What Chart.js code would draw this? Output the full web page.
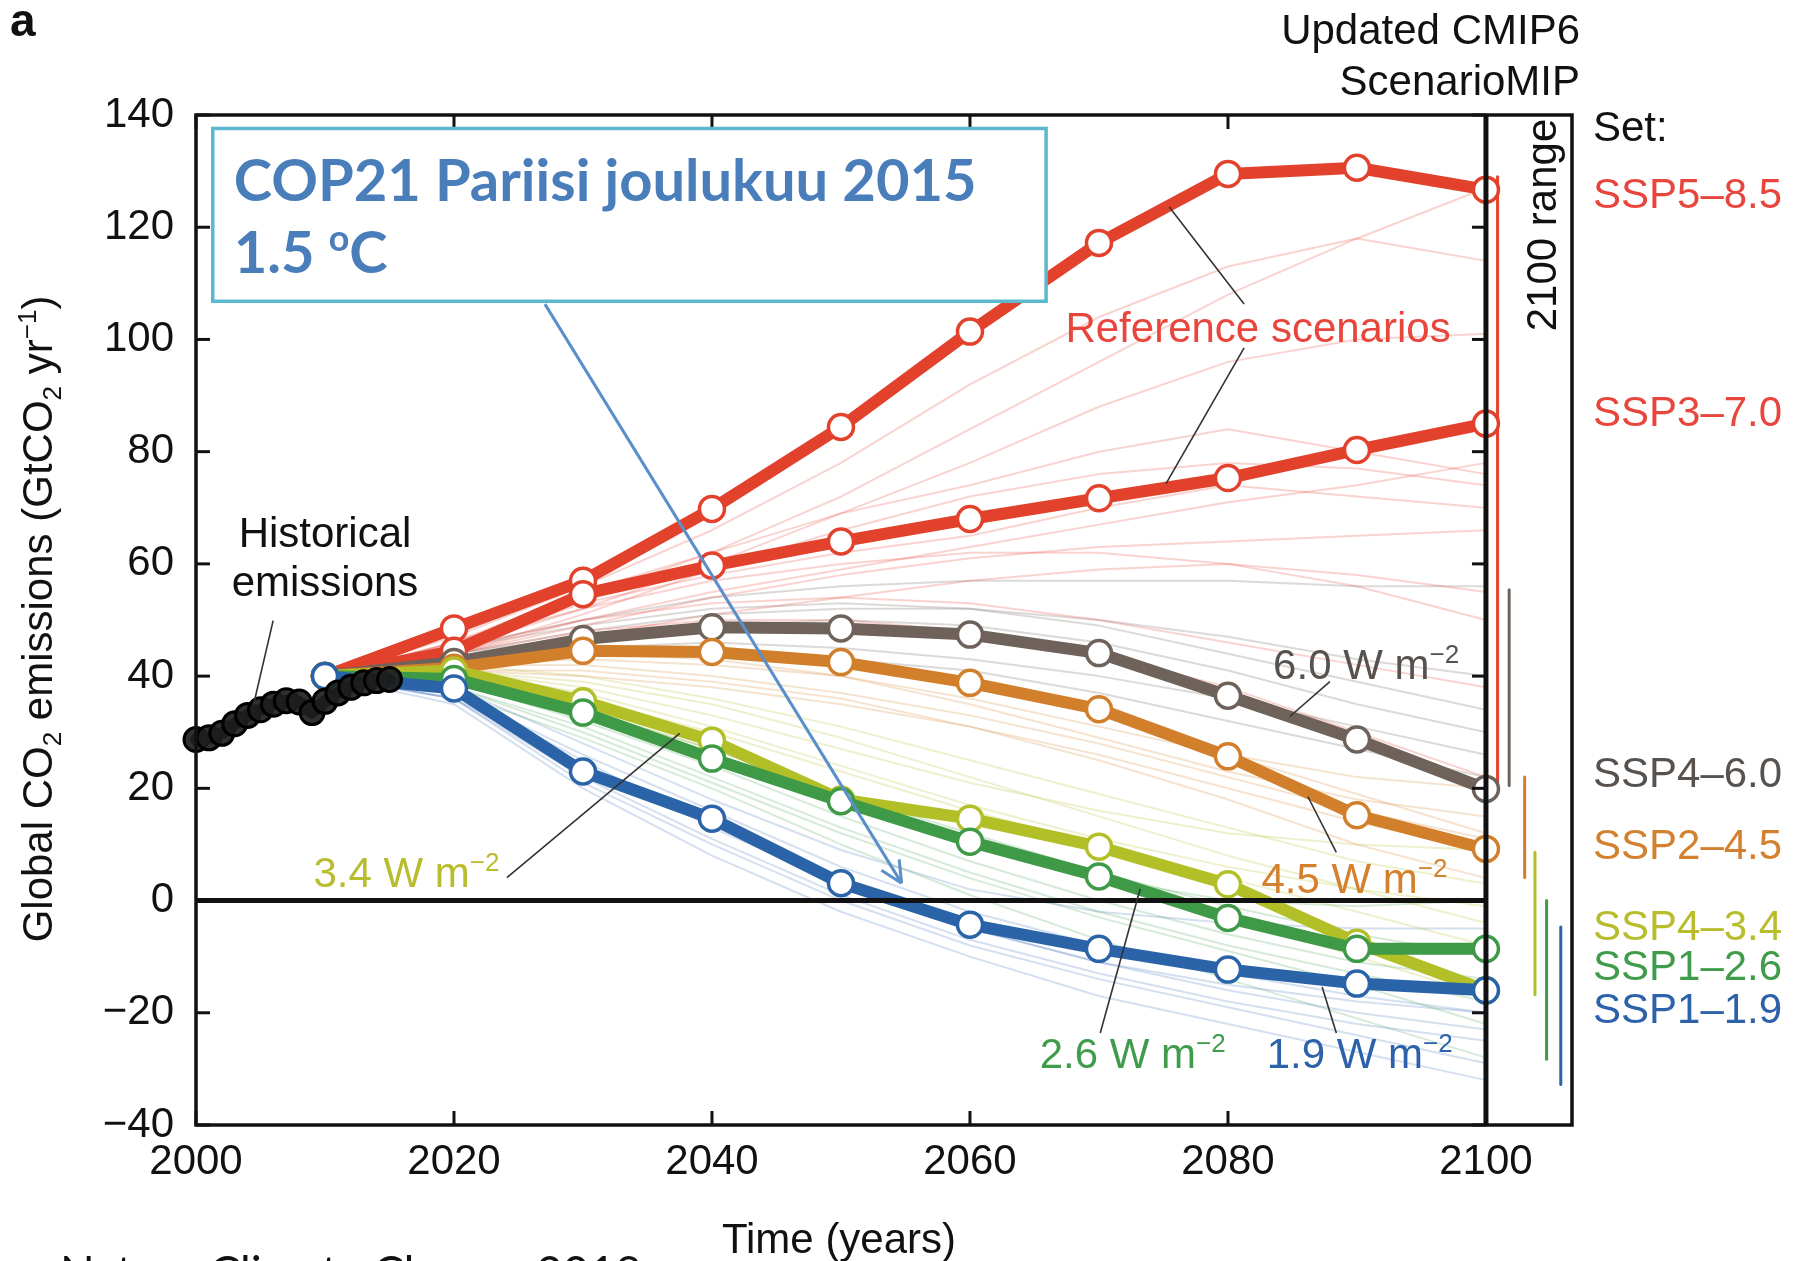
<!DOCTYPE html>
<html><head><meta charset="utf-8">
<script src="https://cdn.jsdelivr.net/npm/chart.js@4.4.1/dist/chart.umd.min.js"></script>
<style>html,body{margin:0;padding:0;background:#fff;overflow:hidden}canvas{display:block}</style>
</head><body>
<canvas id="c" width="1806" height="1261" style="width:1806px;height:1261px"></canvas>
<script>
// Global CO2 emissions, SSP marker scenarios (GtCO2 per year)
const years = [2010, 2020, 2030, 2040, 2050, 2060, 2070, 2080, 2090, 2100];
const ssp585 = [40, 48.5, 57, 69.8, 84.4, 101.4, 117.2, 129.5, 130.6, 126.7];
const ssp370 = [40, 44.5, 54.6, 59.7, 64, 68, 71.7, 75.3, 80.3, 85];
const ssp460 = [40, 42.5, 46.6, 48.7, 48.5, 47.4, 44.1, 36.5, 28.7, 19.9];
const ssp245 = [40, 41.5, 44.5, 44.3, 42.5, 38.8, 34.1, 25.7, 15.2, 9.2];
const ssp434 = [40, 41, 35.5, 28.5, 18, 14.6, 9.6, 2.9, -7.5, -16];
const ssp126 = [40, 39.5, 33.5, 25.3, 17.7, 10.5, 4.3, -3.1, -8.6, -8.6];
const ssp119 = [40, 37.8, 23, 14.6, 3.1, -4.3, -8.6, -12.3, -14.8, -16];

// Historical emissions
const histYears = [2000, 2001, 2002, 2003, 2004, 2005, 2006, 2007, 2008, 2009, 2010, 2011, 2012, 2013, 2014, 2015];
const histCO2 = [28.7, 29.0, 29.8, 31.5, 33.0, 34.0, 35.0, 35.6, 35.4, 33.5, 35.5, 37.0, 38.0, 38.8, 39.2, 39.4];

// Individual model runs of each scenario set
const set585 = [
  [40, 46, 54, 62, 72, 84, 96, 108, 118, 127],
  [40, 47, 56, 66, 78, 92, 104, 113, 118, 114],
  [40, 45, 52, 60, 69, 78, 88, 96, 100, 101],
  [40, 46, 55, 62, 69, 74, 80, 84, 80, 76],
  [40, 44, 50, 55, 59, 63, 67, 71, 74, 78],
  [40, 44, 49, 54, 58, 61, 63, 64, 65, 66],
  [40, 45, 53, 58, 62, 65, 70, 74, 72, 70],
  [40, 43, 47, 51, 54, 57, 59, 60, 58, 55],
  [40, 44, 48, 50, 50, 48, 44, 38, 30, 22],
  [40, 45, 50, 53, 54, 53, 50, 46, 42, 38],
  [40, 46, 52, 57, 60, 62, 62, 60, 56, 50],
  [40, 44, 51, 59, 66, 72, 76, 78, 77, 74]
];
const set460 = [
  [40, 45, 50, 54, 56, 57, 57, 57, 56, 56],
  [40, 44, 48, 51, 52, 52, 50, 47, 43, 40],
  [40, 43, 45, 46, 45, 43, 40, 36, 31, 26],
  [40, 44, 47, 49, 50, 49, 46, 41, 35, 30],
  [40, 42, 44, 44, 43, 41, 37, 32, 27, 22],
  [40, 45, 49, 52, 53, 52, 49, 44, 39, 34]
];
const set245 = [
  [40, 42, 43, 42, 40, 36, 31, 26, 22, 20],
  [40, 41, 40, 38, 35, 31, 26, 20, 14, 9],
  [40, 43, 45, 45, 43, 39, 33, 26, 19, 12],
  [40, 41, 41, 39, 36, 31, 25, 18, 10, 4],
  [40, 42, 44, 43, 40, 35, 29, 23, 18, 15],
  [40, 42, 42, 40, 37, 33, 28, 22, 16, 11]
];
const set434 = [
  [40, 41, 38, 33, 27, 21, 16, 12, 10, 9],
  [40, 40, 36, 30, 23, 16, 10, 4, -2, -8],
  [40, 41, 37, 31, 24, 17, 11, 6, 2, -1],
  [40, 40, 34, 27, 19, 11, 4, -3, -10, -17],
  [40, 41, 39, 35, 29, 22, 15, 8, 2, -4],
  [40, 42, 40, 36, 31, 25, 19, 13, 7, 3]
];
const set126 = [
  [40, 39, 33, 25, 17, 10, 4, 0, -1, 0],
  [40, 38, 31, 22, 13, 5, -2, -8, -13, -18],
  [40, 39, 32, 24, 15, 7, 0, -6, -11, -14],
  [40, 37, 29, 20, 10, 1, -7, -14, -21, -28],
  [40, 39, 34, 27, 19, 12, 5, -1, -6, -10],
  [40, 38, 30, 21, 12, 4, -3, -9, -15, -22]
];
const set119 = [
  [40, 37, 26, 16, 6, -2, -8, -13, -17, -20],
  [40, 36, 22, 11, 1, -7, -13, -18, -22, -25],
  [40, 37, 25, 13, 3, -5, -11, -16, -20, -23],
  [40, 35, 20, 8, -2, -10, -17, -22, -27, -32],
  [40, 38, 28, 18, 9, 2, -2, -4, -5, -5],
  [40, 36, 24, 14, 4, -5, -11, -15, -18, -20],
  [40, 36, 21, 10, 0, -8, -14, -19, -24, -29]
];

// 2100 range of each set [low, high]
const range585 = [19.5, 129];
const range460 = [20.5, 55.4];
const range245 = [4.1, 22];
const range434 = [-16.8, 8.6];
const range126 = [-28.3, 0];
const range119 = [-32.8, -4.7];

const xTicks = [2000, 2020, 2040, 2060, 2080, 2100];
const yTicks = [-40, -20, 0, 20, 40, 60, 80, 100, 120, 140];

const C = {
  red: '#e2412c', gray: '#6e625b', orange: '#d17f2b',
  yellow: '#b3bf27', green: '#3f9a48', blue: '#2a63a8'
};
const FONT = "'Liberation Sans', Arial, sans-serif";

const mk = arr => years.map((yr, i) => ({x: yr, y: arr[i]}));

const datasets = [];
function mainSeries(label, arr, color, order) {
  datasets.push({
    label, data: mk(arr), borderColor: color, borderWidth: 12,
    pointRadius: 12.5, pointBorderWidth: 3.5, pointBackgroundColor: '#fff',
    pointBorderColor: color, order, clip: false
  });
}
function faintSet(set, color) {
  set.forEach(arr => datasets.push({
    data: mk(arr), borderColor: color, borderWidth: 2, pointRadius: 0, order: 20
  }));
}
faintSet(set585, 'rgba(232,70,58,0.24)');
faintSet(set460, 'rgba(110,100,95,0.24)');
faintSet(set245, 'rgba(215,140,60,0.24)');
faintSet(set434, 'rgba(190,196,60,0.26)');
faintSet(set126, 'rgba(70,160,80,0.22)');
faintSet(set119, 'rgba(60,110,185,0.22)');

const ranges = [
  [range585, C.red, 0.9], [range460, C.gray, 1.8], [range245, C.orange, 3.0],
  [range434, C.yellow, 3.8], [range126, C.green, 4.7], [range119, C.blue, 5.8]
];
ranges.forEach(([r, color, dx]) => datasets.push({
  data: [{x: 2100 + dx, y: r[0]}, {x: 2100 + dx, y: r[1]}],
  borderColor: color, borderWidth: 3, pointRadius: 0, order: 9
}));

mainSeries('SSP5–8.5', ssp585, C.red, 7);
mainSeries('SSP3–7.0', ssp370, C.red, 6);
mainSeries('SSP4–6.0', ssp460, C.gray, 5);
mainSeries('SSP2–4.5', ssp245, C.orange, 4);
mainSeries('SSP4–3.4', ssp434, C.yellow, 3);
mainSeries('SSP1–2.6', ssp126, C.green, 2);
mainSeries('SSP1–1.9', ssp119, C.blue, 1);

datasets.push({
  label: 'Historical', data: histYears.map((yr, i) => ({x: yr, y: histCO2[i]})),
  borderColor: '#000', borderWidth: 12, pointRadius: 12, pointBorderWidth: 3,
  pointBorderColor: '#000', pointBackgroundColor: 'rgba(30,30,30,0.92)', order: 0, clip: false
});

// text with super/subscripts: parts = [[text, mode]], mode 1 = sup, -1 = sub
function rich(ctx, parts, x, baseline, size, color, align, family, weight) {
  const fnt = s => `${weight || 'normal'} ${s}px ${family || FONT}`;
  let w = 0;
  parts.forEach(([t, m]) => { ctx.font = fnt(m ? size * 0.62 : size); w += ctx.measureText(t).width; });
  let cx = align === 'center' ? x - w / 2 : align === 'right' ? x - w : x;
  ctx.fillStyle = color; ctx.textAlign = 'left'; ctx.textBaseline = 'alphabetic';
  parts.forEach(([t, m]) => {
    const s = m ? size * 0.62 : size;
    ctx.font = fnt(s);
    const dy = m === 1 ? -0.38 * size : m === -1 ? 0.2 * size : 0;
    ctx.fillText(t, cx, baseline + dy);
    cx += ctx.measureText(t).width;
  });
}

const annotations = {
  id: 'annotations',
  afterDatasetsDraw(chart) {
    const {ctx, chartArea: a, scales: {x, y}} = chart;
    const px = v => x.getPixelForValue(v), py = v => y.getPixelForValue(v);
    const seg = (x1, y1, x2, y2) => { ctx.beginPath(); ctx.moveTo(x1, y1); ctx.lineTo(x2, y2); ctx.stroke(); };
    ctx.save();
    ctx.lineCap = 'butt';

    // zero line and 2100 line
    ctx.strokeStyle = '#111'; ctx.lineWidth = 5;
    seg(px(2000), py(0), px(2100), py(0));
    seg(px(2100), a.top, px(2100), a.bottom);
    // frame
    ctx.lineWidth = 3.5;
    ctx.strokeRect(a.left, a.top, a.right - a.left, a.bottom - a.top);
    // inward tick marks
    ctx.lineWidth = 3;
    yTicks.forEach(v => {
      seg(a.left, py(v), a.left + 14, py(v));
      seg(px(2100), py(v), px(2100) - 14, py(v));
    });
    xTicks.forEach(v => {
      seg(px(v), a.bottom, px(v), a.bottom - 14);
      seg(px(v), a.top, px(v), a.top + 14);
    });

    // leader lines
    ctx.strokeStyle = '#333'; ctx.lineWidth = 1.6;
    const leaders = [
      [2005.98, 49.9, 2004.46, 34.9],
      [2081.25, 106.3, 2075.45, 123.6],
      [2081.25, 98.5, 2075.2, 74.3],
      [2087.9, 39, 2084.8, 32.8],
      [2088.4, 8.6, 2086.2, 18.5],
      [2024.1, 4.1, 2037.5, 29.8],
      [2070.1, -23.6, 2073.2, 2.1],
      [2088.4, -23.6, 2087.3, -15.4]
    ];
    leaders.forEach(l => seg(px(l[0]), py(l[1]), px(l[2]), py(l[3])));

    // in-plot labels
    const S = 42, b = v => py(v) + 0.36 * S;
    const wm = n => [[n + ' W m'], ['−2', 1]];
    rich(ctx, [['Historical']], px(2010), b(65.7), S, '#111', 'center');
    rich(ctx, [['emissions']], px(2010), b(56.9), S, '#111', 'center');
    rich(ctx, [['Reference scenarios']], px(2067.4), b(102.2), S, '#e8453c', 'left');
    rich(ctx, wm('6.0'), px(2083.5), b(42.1), S, '#58524e', 'left');
    rich(ctx, wm('4.5'), px(2082.6), b(4.1), S, '#d4812f', 'left');
    rich(ctx, wm('3.4'), px(2009.1), b(5.1), S, '#b8bd2e', 'left');
    rich(ctx, wm('2.6'), px(2065.4), b(-27.1), S, '#3f9c4a', 'left');
    rich(ctx, wm('1.9'), px(2083.0), b(-27.1), S, '#2d62aa', 'left');

    // COP21 box
    const bx1 = px(2001.3), bx2 = px(2065.9), by1 = py(137.6), by2 = py(106.8);
    ctx.fillStyle = '#fff'; ctx.fillRect(bx1, by1, bx2 - bx1, by2 - by1);
    ctx.strokeStyle = '#5bb8cf'; ctx.lineWidth = 3.5;
    ctx.strokeRect(bx1, by1, bx2 - bx1, by2 - by1);
    const line1 = 'COP21 Pariisi joulukuu 2015';
    ctx.font = "bold 100px Lato, 'Open Sans', sans-serif";
    const bs = 100 * 743 / ctx.measureText(line1).width;
    rich(ctx, [[line1]], bx1 + 21, by1 + 52 + 0.36 * bs, bs, '#4a7ebb', 'left', "Lato, 'Open Sans', sans-serif", 'bold');
    rich(ctx, [['1.5 '], ['o', 1], ['C']], bx1 + 21, by1 + 124 + 0.36 * bs, bs, '#4a7ebb', 'left', "Lato, 'Open Sans', sans-serif", 'bold');

    // arrow from box to the net-zero crossing
    const ax1 = px(2027.05), ay1 = py(106.3), ax2 = px(2054.7), ay2 = py(3.1);
    ctx.strokeStyle = '#5b8fc9'; ctx.lineWidth = 3;
    seg(ax1, ay1, ax2, ay2);
    const ang = Math.atan2(ay2 - ay1, ax2 - ax1), hl = 24;
    [-0.45, 0.45].forEach(d => seg(ax2, ay2, ax2 - hl * Math.cos(ang + d), ay2 - hl * Math.sin(ang + d)));

    // outside texts
    rich(ctx, [['a']], 10, 36, 46, '#111', 'left', FONT, 'bold');
    rich(ctx, [['Updated CMIP6']], 1580, 44, S, '#111', 'right');
    rich(ctx, [['ScenarioMIP']], 1580, 95, S, '#111', 'right');
    rich(ctx, [['Set:']], 1593, 141, S, '#111', 'left');
    const legend = [
      ['SSP5–8.5', 193, '#e8453c'], ['SSP3–7.0', 411, '#e8453c'],
      ['SSP4–6.0', 772, '#58524e'], ['SSP2–4.5', 844, '#d4812f'],
      ['SSP4–3.4', 925, '#b8bd2e'], ['SSP1–2.6', 965, '#3f9c4a'],
      ['SSP1–1.9', 1008, '#2d62aa']
    ];
    legend.forEach(([t, cy, col]) => rich(ctx, [[t]], 1593, cy + 0.36 * S, S, col, 'left'));

    // rotated labels
    ctx.save();
    ctx.translate(1541 + 0.36 * S, 225); ctx.rotate(-Math.PI / 2);
    rich(ctx, [['2100 range']], 0, 0, S, '#111', 'center');
    ctx.restore();
    ctx.save();
    ctx.translate(37 + 0.36 * S, 619); ctx.rotate(-Math.PI / 2);
    rich(ctx, [['Global CO'], ['2', -1], [' emissions (GtCO'], ['2', -1], [' yr'], ['−1', 1], [')']], 0, 0, S, '#111', 'center');
    ctx.restore();

    rich(ctx, [['Time (years)']], 839, 1238 + 0.36 * S, S, '#111', 'center');

    const src = 'Nature Climate Change 2018';
    ctx.font = "40px Lato, 'Open Sans', sans-serif";
    const ss = 40 * 582 / ctx.measureText(src).width;
    rich(ctx, [[src]], 60, 1256 + 0.72 * ss, ss, '#111', 'left', "Lato, 'Open Sans', sans-serif");
    ctx.restore();
  }
};

new Chart(document.getElementById('c'), {
  type: 'line',
  data: {datasets},
  options: {
    responsive: false, animation: false, devicePixelRatio: 1,
    layout: {padding: {left: 0, top: 115, right: 234, bottom: 0}},
    plugins: {legend: {display: false}, tooltip: {enabled: false}},
    elements: {line: {tension: 0, borderCapStyle: 'round', borderJoinStyle: 'round'}},
    scales: {
      x: {
        type: 'linear', min: 2000, max: 2106.67,
        grid: {display: false, drawTicks: false}, border: {display: false},
        afterBuildTicks: s => { s.ticks = xTicks.map(v => ({value: v})); },
        afterFit: s => { s.height = 136; },
        ticks: {padding: 12, autoSkip: false, maxRotation: 0, color: '#111',
          font: {family: FONT, size: 42}, callback: v => String(v)}
      },
      y: {
        min: -40, max: 140,
        grid: {display: false, drawTicks: false}, border: {display: false},
        afterBuildTicks: s => { s.ticks = yTicks.map(v => ({value: v})); },
        afterFit: s => { s.width = 196; },
        ticks: {padding: 22, color: '#111', font: {family: FONT, size: 42},
          callback: v => v < 0 ? '−' + Math.abs(v) : String(v)}
      }
    }
  },
  plugins: [annotations]
});
</script></body></html>
